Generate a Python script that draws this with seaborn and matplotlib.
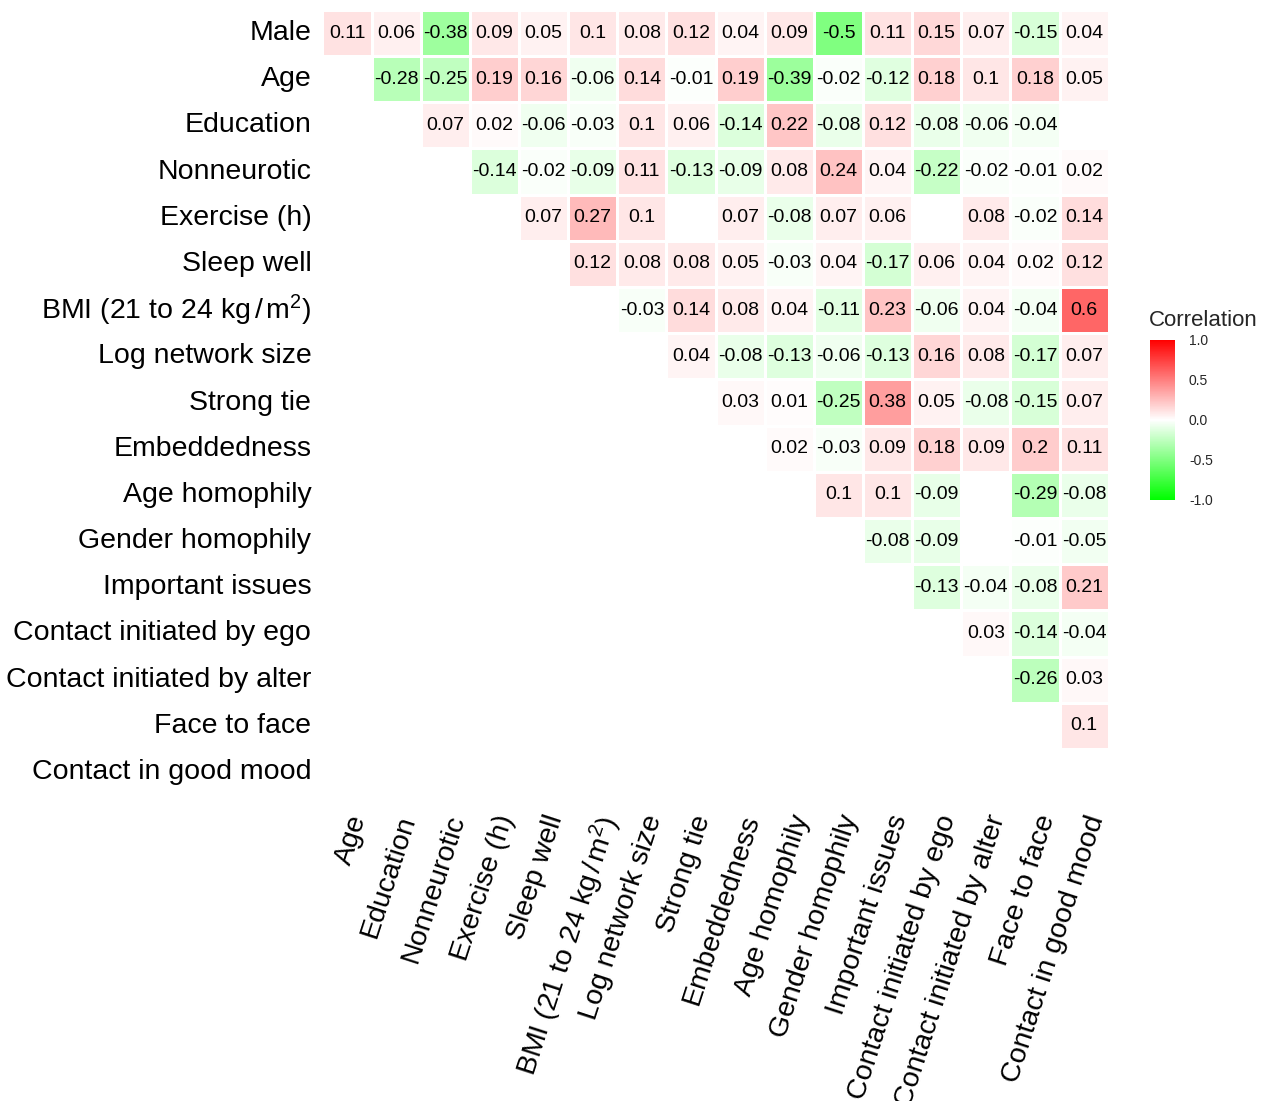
import numpy as np
import pandas as pd
import matplotlib
matplotlib.use("Agg")
import matplotlib.pyplot as plt
from matplotlib.colors import LinearSegmentedColormap
import seaborn as sns

# Variable names (rows run Male..Contact in good mood, columns Age..Contact in good mood)
row_vars = ["Male", "Age", "Education", "Nonneurotic", "Exercise (h)", "Sleep well",
            r"BMI (21 to 24 kg$\,/\,$m$^2$)", "Log network size", "Strong tie",
            "Embeddedness", "Age homophily", "Gender homophily", "Important issues",
            "Contact initiated by ego", "Contact initiated by alter", "Face to face",
            "Contact in good mood"]
col_vars = row_vars[1:]

# Upper-triangle correlations, one list per row (None = not reported)
male = [0.11, 0.06, -0.38, 0.09, 0.05, 0.1, 0.08, 0.12, 0.04, 0.09, -0.5, 0.11, 0.15, 0.07, -0.15, 0.04]
age = [-0.28, -0.25, 0.19, 0.16, -0.06, 0.14, -0.01, 0.19, -0.39, -0.02, -0.12, 0.18, 0.1, 0.18, 0.05]
education = [0.07, 0.02, -0.06, -0.03, 0.1, 0.06, -0.14, 0.22, -0.08, 0.12, -0.08, -0.06, -0.04, None]
nonneurotic = [-0.14, -0.02, -0.09, 0.11, -0.13, -0.09, 0.08, 0.24, 0.04, -0.22, -0.02, -0.01, 0.02]
exercise = [0.07, 0.27, 0.1, None, 0.07, -0.08, 0.07, 0.06, None, 0.08, -0.02, 0.14]
sleep_well = [0.12, 0.08, 0.08, 0.05, -0.03, 0.04, -0.17, 0.06, 0.04, 0.02, 0.12]
bmi = [-0.03, 0.14, 0.08, 0.04, -0.11, 0.23, -0.06, 0.04, -0.04, 0.6]
log_network = [0.04, -0.08, -0.13, -0.06, -0.13, 0.16, 0.08, -0.17, 0.07]
strong_tie = [0.03, 0.01, -0.25, 0.38, 0.05, -0.08, -0.15, 0.07]
embeddedness = [0.02, -0.03, 0.09, 0.18, 0.09, 0.2, 0.11]
age_homophily = [0.1, 0.1, -0.09, None, -0.29, -0.08]
gender_homophily = [-0.08, -0.09, None, -0.01, -0.05]
important_issues = [-0.13, -0.04, -0.08, 0.21]
initiated_ego = [0.03, -0.14, -0.04]
initiated_alter = [-0.26, 0.03]
face_to_face = [0.1]
good_mood = []

rows = [male, age, education, nonneurotic, exercise, sleep_well, bmi, log_network,
        strong_tie, embeddedness, age_homophily, gender_homophily, important_issues,
        initiated_ego, initiated_alter, face_to_face, good_mood]

n_rows, n_cols = len(row_vars), len(col_vars)
mat = np.full((n_rows, n_cols), np.nan)
for i, vals in enumerate(rows):
    for k, v in enumerate(vals):
        if v is not None:
            mat[i, i + k] = v

labels = np.where(np.isnan(mat), "", np.vectorize(lambda v: f"{v:g}")(mat))
df = pd.DataFrame(mat, index=row_vars, columns=col_vars)

sns.set_theme(style="white")
plt.rcParams["font.family"] = ["Liberation Sans", "DejaVu Sans"]
plt.rcParams["mathtext.fontset"] = "custom"
plt.rcParams["mathtext.rm"] = "Liberation Sans"
plt.rcParams["mathtext.it"] = "Liberation Sans"
plt.rcParams["mathtext.default"] = "regular"

cmap = LinearSegmentedColormap.from_list("gwr", ["#00FF00", "#FFFFFF", "#FF0000"])

fig = plt.figure(figsize=(12.67, 11.01), dpi=100)
ax = fig.add_axes([0.2545, 0.2778, 0.6206, 0.7132])
cax = fig.add_axes([0.9077, 0.5459, 0.0197, 0.1453])

sns.heatmap(df, ax=ax, cbar_ax=cax, cmap=cmap, vmin=-1, vmax=1,
            annot=labels, fmt="", annot_kws={"fontsize": 14, "color": "black"},
            linewidths=0.8, linecolor="white", square=False)

ax.tick_params(axis="both", length=0, labelsize=20.5)
ax.tick_params(axis="y", pad=8)
ax.tick_params(axis="x", pad=12)
ax.set_yticklabels(row_vars, rotation=0)
ax.set_xticklabels(col_vars, rotation=72, ha="right", va="top", rotation_mode="anchor")
for t in ax.get_xticklabels() + ax.get_yticklabels():
    t.set_color("black")
    t.set_fontstyle("normal")
ax.set_xlabel("")
ax.set_ylabel("")

cbar = ax.collections[0].colorbar
cbar.outline.set_visible(False)
cbar.set_ticks([-1.0, -0.5, 0.0, 0.5, 1.0])
cbar.set_ticklabels(["-1.0", "-0.5", "0.0", "0.5", "1.0"])
cbar.ax.tick_params(length=0, labelsize=10, pad=10)
cax.set_title("Correlation", fontsize=16, loc="left", pad=10, x=-0.05)

fig.savefig("out.png", dpi=100)
